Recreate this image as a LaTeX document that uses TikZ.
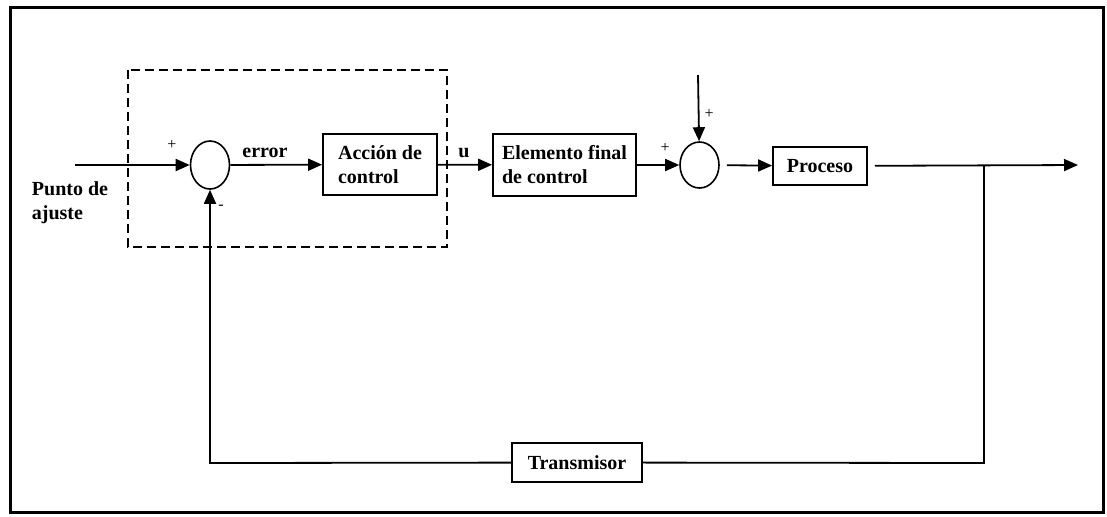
\documentclass[tikz,border=0pt]{standalone}
\usepackage{fontspec}
\setmainfont{Liberation Serif}
\usepackage{tikz}
\usetikzlibrary{calc,arrows.meta,shapes.geometric,positioning}

\begin{document}
\begin{tikzpicture}[x=0.5pt,y=-0.5pt,>={Triangle[length=7pt,width=6pt]}]

\tikzset{blocknode/.style={draw,line width=0.9pt,font=\fontsize{10}{12}\selectfont\bfseries,align=left,inner sep=0pt},
sumnode/.style={draw,shape=ellipse,line width=0.8pt,inner sep=0pt,minimum width=19.5pt,minimum height=24pt},
signnode/.style={font=\fontsize{8}{9}\selectfont,inner sep=0pt},
textnode/.style={font=\fontsize{10}{12}\selectfont\bfseries,inner sep=0pt,align=left},
flow/.style={->,line width=0.9pt}}

\useasboundingbox (0,0) rectangle (1107,516);

% Frame
\draw[line width=1.5pt] (10.5,7.5) rectangle (1103.5,512.5);

% Controller (dashed)
\draw[line width=0.9pt,dash pattern=on 4.5pt off 2.5pt] (128,70) rectangle (447,247);

% Blocks
\node[sumnode] (sum1) at (210,165) {};
\node[blocknode,minimum width=57pt,minimum height=30.5pt] (accion) at (380,164.5) {Acción de\\control};
\node[blocknode,minimum width=71.5pt,minimum height=31pt] (elemento) at (564.5,165) {Elemento final\\de control};
\node[sumnode,minimum height=23pt] (sum2) at (699.5,165) {};
\node[blocknode,minimum width=47pt,minimum height=19pt] (proceso) at (820,166) {Proceso};
\node[blocknode,minimum width=65pt,minimum height=19.5pt] (transmisor) at (577,462.5) {Transmisor};

% Free ends
\coordinate (setpoint) at (75,165);
\coordinate (disturb) at (698,75);
\coordinate (output) at (1078,165);
\coordinate (branch) at (984,165);
\coordinate (corner1) at (984,463);
\coordinate (corner2) at (210,463);

% Labels
\node[textnode] (punto) at (70,203) {Punto de\\ajuste};
\node[textnode] (error) at (265,153) {error};
\node[textnode] (u) at (464,153) {u};
\node[signnode] (p1) at (172,145) {+};
\node[signnode] (m1) at (221,207) {-};
\node[signnode] (p2) at (665,148) {+};
\node[signnode] (p3) at (709,114) {+};

% Edges
\draw[flow] (setpoint) -- (sum1);
\draw[flow] (sum1) -- (accion);
\draw[flow] (accion) -- (elemento);
\draw[flow] (elemento) -- (sum2);
\draw[flow] (disturb) -- (sum2);
\draw[flow,shorten <=3.5pt] (sum2) -- (proceso);
\draw[flow,shorten <=3.5pt] (proceso) -- (output);
\draw[line width=0.9pt] (branch) -- (corner1) -- (transmisor);
\draw[flow] (transmisor) -- (corner2) -- (sum1);

\end{tikzpicture}
\end{document}
